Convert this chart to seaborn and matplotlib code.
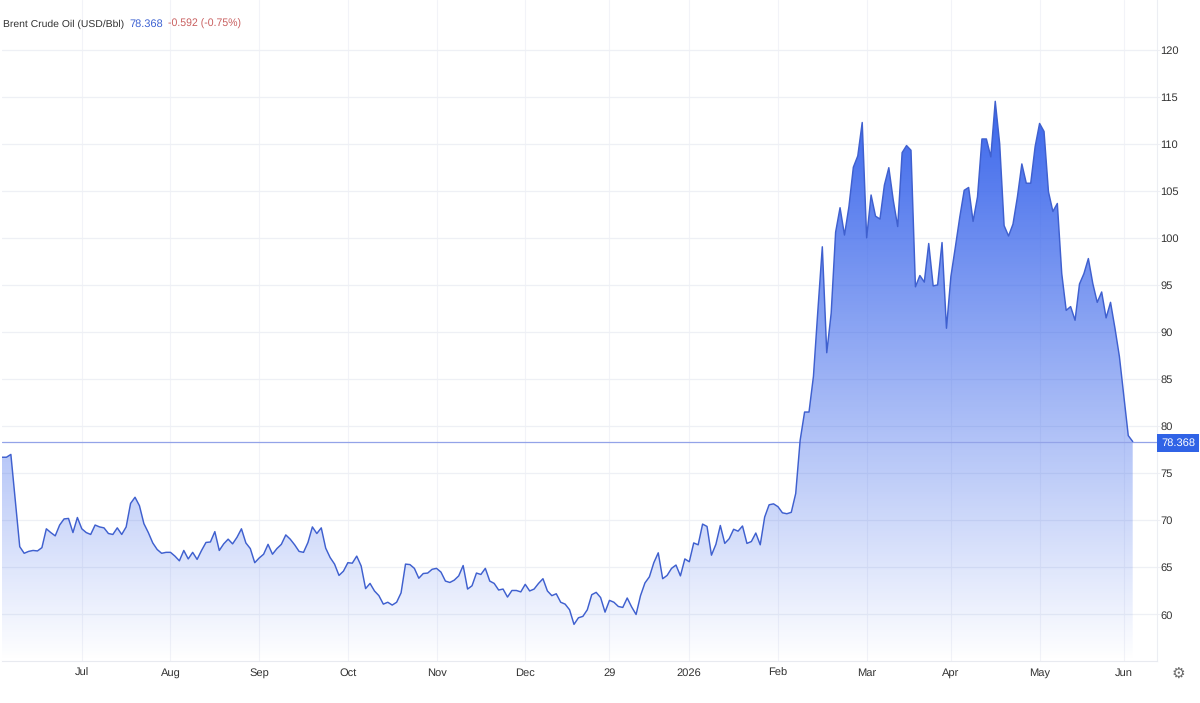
import numpy as np
import pandas as pd
import seaborn as sns
import matplotlib
matplotlib.use("Agg")
import matplotlib.pyplot as plt
from matplotlib.colors import LinearSegmentedColormap
from matplotlib.patches import PathPatch, Rectangle

# Brent daily closes, USD per barrel
closes_2025_summer = [
    76.7, 76.7, 77.0, 72.1, 67.2, 66.5, 66.7, 66.8, 66.75, 67.1, 69.1, 68.7, 68.35, 69.5, 70.15,
    70.2, 68.7, 70.3, 69.1, 68.7, 68.5, 69.5, 69.3, 69.2, 68.6, 68.5, 69.2, 68.5, 69.3, 71.8,
    72.45, 71.55, 69.65, 68.7, 67.6, 66.9, 66.5, 66.6, 66.6, 66.2, 65.7, 66.8, 65.9, 66.6, 65.85,
    66.8, 67.65, 67.7, 68.8, 66.8, 67.5, 68.0, 67.5, 68.2, 69.1, 67.6, 67.0, 65.5, 66.0, 66.4,
    67.45, 66.4, 67.0, 67.45, 68.45, 68.0, 67.4, 66.7, 66.6, 67.65, 69.3, 68.6, 69.2, 67.05, 66.05,
    65.35, 64.15, 64.6, 65.5, 65.45, 66.2, 65.15, 62.75, 63.3, 62.5, 62.0, 61.1, 61.3, 61.0, 61.3,
    62.3,
]
closes_2025_autumn = [
    65.35, 65.3, 64.9, 63.85, 64.35, 64.4, 64.8, 64.9, 64.5, 63.55, 63.4, 63.65, 64.1, 65.2, 62.7,
    63.05, 64.4, 64.25, 64.9, 63.55, 63.3, 62.6, 62.7, 61.85, 62.55, 62.55, 62.4, 63.2, 62.5, 62.7,
    63.3, 63.8, 62.5, 62.0, 62.2, 61.3, 61.1, 60.5, 58.95, 59.65, 59.8, 60.5, 62.1, 62.35, 61.8,
    60.25, 61.5, 61.3, 60.85, 60.75, 61.75, 60.8, 60.0, 62.0, 63.35, 64.0, 65.5, 66.55, 63.8, 64.15,
    64.9, 65.25, 64.1, 65.9, 65.6, 67.6, 67.4, 69.6, 69.35, 66.3, 67.45, 69.45, 67.55, 68.05, 69.05,
    68.85, 69.4, 67.55, 67.75, 68.65, 67.4, 70.35, 71.65, 71.75, 71.45, 70.8, 70.7, 70.85, 72.85,
]
closes_2026_spike = [
    78.5, 81.5, 81.5, 85.3, 92.3, 99.05, 87.8, 92.0, 100.6, 103.2, 100.3, 103.3, 107.5, 108.7, 112.25,
    100.0, 104.55, 102.3, 102.0, 105.6, 107.45, 104.0, 101.2, 109.05, 109.8, 109.3, 94.8, 96.0, 95.3,
    99.4, 94.9, 95.0, 99.5, 90.4, 95.9, 99.0, 102.2, 105.05, 105.35, 101.75, 104.35, 110.5, 110.5,
    108.6, 114.5, 110.0,
]
closes_2026_decline = [
    101.3, 100.2, 101.45, 104.35, 107.85, 105.8, 105.8, 109.7, 112.15, 111.3, 104.9, 102.8, 103.65,
    96.2, 92.3, 92.7, 91.25, 95.1, 96.2, 97.8, 95.15, 93.15, 94.25, 91.5, 93.15, 90.4, 87.4, 83.15,
    79.0, 78.368,
]
closes = closes_2025_summer + closes_2025_autumn + closes_2026_spike + closes_2026_decline

axis_labels = ["Jul", "Aug", "Sep", "Oct", "Nov", "Dec", "29", "2026", "Feb", "Mar", "Apr", "May", "Jun"]
axis_sessions = [18, 38, 58, 78, 98, 118, 137, 155, 175, 195, 214, 234, 253]
price_levels = list(range(60, 125, 5))

series_name = "Brent Crude Oil (USD/Bbl)"
last_price = "78.368"
day_change = "-0.592 (-0.75%)"

W, H = 1200, 703
plot_left, plot_right, plot_bottom = 2, 1157, 661
last_point_px = 1132.7
LINE = "#3f60cf"
GRID = "#eef0f5"
TEXT = "#333333"

sns.set_theme(style="white")
plt.rcParams["font.family"] = ["Liberation Sans", "DejaVu Sans"]
plt.rcParams["text.hinting"] = "no_hinting"

df = pd.DataFrame({"session": np.arange(len(closes)), "close": closes})

fig = plt.figure(figsize=(W / 100, H / 100), dpi=100, facecolor="white")
ax = fig.add_axes([plot_left / W, (H - plot_bottom) / H, (plot_right - plot_left) / W, plot_bottom / H])

step = (last_point_px - plot_left) / (len(closes) - 1)
ax.grid(True, axis="y", color=GRID, lw=0.9)
ax.grid(True, axis="x", color="#f2f3f8", lw=0.8)
ax.set_axisbelow(True)

# Area under the price: a vertical fade clipped to the filled polygon
shade = ax.fill_between(df["session"], df["close"], 55.06, color="none", lw=0)
fade = LinearSegmentedColormap.from_list(
    "fade", [(0.19, 0.37, 0.92, 0.0), (0.19, 0.37, 0.92, 0.95)]
)
gradient = np.linspace(1, 0, 256).reshape(-1, 1)
image = ax.imshow(
    gradient, cmap=fade, aspect="auto", vmin=0, vmax=1, interpolation="bilinear",
    extent=(0, len(closes) - 1, 55.06, max(closes)), zorder=1.5,
)
clip = PathPatch(shade.get_paths()[0], transform=ax.transData, fc="none", ec="none")
ax.add_patch(clip)
image.set_clip_path(clip)

sns.lineplot(data=df, x="session", y="close", ax=ax, color=LINE, lw=1.05, zorder=3, errorbar=None)
ax.axhline(closes[-1], color="#93a3e8", lw=0.9, zorder=2.5)

ax.set_xlim(0, (plot_right - plot_left) / step)
ax.set_ylim(55.06, 125.26)
ax.set_xlabel("")
ax.set_ylabel("")
ax.set_xticks(axis_sessions, axis_labels)
ax.set_yticks(price_levels)
ax.yaxis.tick_right()
ax.tick_params(axis="x", length=0, pad=5, labelsize=8, labelcolor=TEXT)
ax.tick_params(axis="y", length=2, width=0.8, color=GRID, pad=0.5, labelsize=8, labelcolor=TEXT)
for side in ("top", "left"):
    ax.spines[side].set_visible(False)
ax.spines["bottom"].set_color("#e8eaf0")
ax.spines["right"].set_color("#eceef3")
for spine in ("bottom", "right"):
    ax.spines[spine].set_linewidth(0.8)

# Header line with the series name and latest quote
fig.text(3 / W, 1 - 24 / H, series_name, fontsize=7.5, color=TEXT, va="center")
fig.text(129 / W, 1 - 24 / H, last_price, fontsize=7.9, color="#3d62d2", va="center")
fig.text(168 / W, 1 - 24 / H, day_change, fontsize=7.6, color="#c95f5f", va="center")

# Latest price badge on the value axis
fig.add_artist(Rectangle((1157 / W, 1 - 452 / H), 42 / W, 18 / H, transform=fig.transFigure,
                         fc="#3063e6", ec="none"))
fig.text(1178 / W, 1 - 443 / H, last_price, fontsize=8, color="white", ha="center", va="center")

# Settings glyph under the value axis
fig.text(1178 / W, 1 - 675 / H, "\u2699", fontsize=11, color="#6a6a6a", ha="center", va="center",
         family="DejaVu Sans")

fig.savefig("out.png", dpi=100, facecolor="white")
